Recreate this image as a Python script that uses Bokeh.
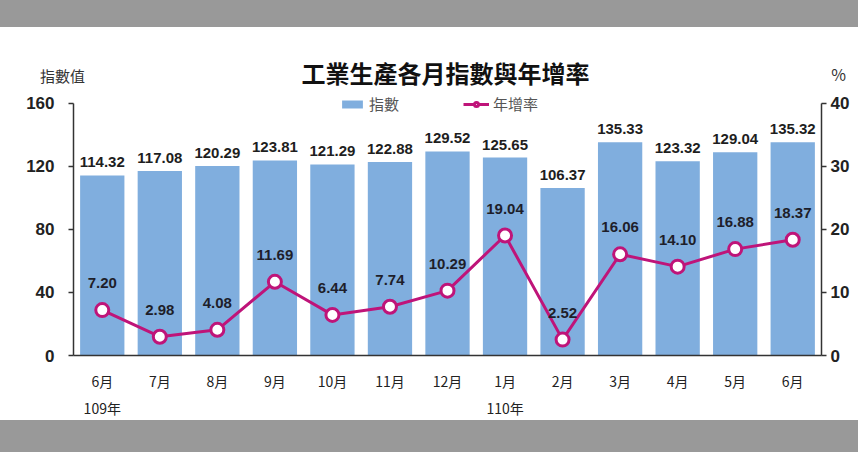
from bokeh.plotting import figure
from bokeh.models import (Range1d, LinearAxis, FixedTicker, ColumnDataSource,
                          Legend, LegendItem, Div)
from bokeh.layouts import column
from bokeh.core.properties import value
from bokeh.embed import file_html
from bokeh.resources import INLINE

# ---- data ----
months = ["6月", "7月", "8月", "9月", "10月", "11月", "12月",
          "1月", "2月", "3月", "4月", "5月", "6月"]
index_vals = [114.32, 117.08, 120.29, 123.81, 121.29, 122.88, 129.52,
              125.65, 106.37, 135.33, 123.32, 129.04, 135.32]
growth = [7.20, 2.98, 4.08, 11.69, 6.44, 7.74, 10.29,
          19.04, 2.52, 16.06, 14.10, 16.88, 18.37]
year_ticks = [0, 7]
year_names = ["109年", "110年"]
left_ticks = [0, 40, 80, 120, 160]
right_ticks = [0, 10, 20, 30, 40]
title_text = "工業生產各月指數與年增率"
left_unit = "指數值"
right_unit = "%"

BAR = "#80AEDE"
LINE = "#BF1479"
NUM_FONT = "'Liberation Sans Narrow', 'Liberation Sans', Arial, sans-serif"
CJK = "Noto Sans CJK TC"

# ---------------- header (title row) ----------------
hdr = figure(width=858, height=63, x_range=Range1d(0, 858),
             y_range=Range1d(90, 27), output_backend="svg",
             toolbar_location=None, min_border=0,
             min_border_left=0, min_border_right=0,
             min_border_top=0, min_border_bottom=0,
             x_axis_location=None, y_axis_location=None,
             outline_line_color=None, background_fill_color="white",
             border_fill_color="white")
hdr.frame_align = False
hdr.xgrid.grid_line_color = None
hdr.ygrid.grid_line_color = None
hdr_src = ColumnDataSource(dict(
    x=[445, 62, 838], y=[72, 75, 73],
    t=[title_text, left_unit, right_unit],
    size=["24px", "15px", "16px"],
    style=["bold", "normal", "normal"],
    color=["#111111", "#333333", "#333333"],
))
hdr.text(x="x", y="y", text="t", source=hdr_src, text_align="center",
         text_baseline="middle", text_font=value(CJK),
         text_font_size="size", text_font_style="style", text_color="color")

# ---------------- main chart ----------------
xs = list(range(len(months)))
src = ColumnDataSource(dict(
    x=xs, idx=index_vals, g=growth,
    idx_t=[f"{v:.2f}" for v in index_vals],
    g_t=[f"{v:.2f}" for v in growth],
))

frame_h = 267
px_per = 254 / 160.0
p = figure(width=858, height=330, x_range=Range1d(-0.5, 12.5),
           y_range=Range1d(0, frame_h / px_per), output_backend="svg",
           toolbar_location=None, min_border_left=73, min_border_right=37,
           min_border_top=0, min_border_bottom=63,
           outline_line_color=None, background_fill_color="white",
           border_fill_color="white")
p.frame_align = False
p.xgrid.grid_line_color = None
p.ygrid.grid_line_color = None
p.extra_y_ranges = {"pct": Range1d(0, frame_h / px_per / 4.0)}

# bars
bars = p.vbar(x="x", top="idx", width=0.77, source=src, fill_color=BAR,
              line_color=None)
p.text(x="x", y="idx", text="idx_t", source=src, text_align="center",
       text_baseline="middle", y_offset=-13, text_font=value(NUM_FONT),
       text_font_size="15px", text_font_style="bold", text_color="#1e1e1e")

# line
ln = p.line(x="x", y="g", source=src, y_range_name="pct", line_color=LINE,
            line_width=3)
dots = p.scatter(x="x", y="g", source=src, y_range_name="pct", size=13,
                 fill_color="white", line_color=LINE, line_width=3)
p.text(x="x", y="g", text="g_t", source=src, y_range_name="pct",
       text_align="center", text_baseline="middle", y_offset=-27,
       text_font=value(NUM_FONT), text_font_size="15px",
       text_font_style="bold", text_color="#1e1e2a")

# axes
ax_col = "#333333"
ya = p.yaxis[0]
ya.ticker = FixedTicker(ticks=left_ticks)
ya.bounds = (0, 160)
ya.axis_line_color = ax_col
ya.axis_line_width = 1.5
ya.major_tick_line_color = ax_col
ya.major_tick_line_width = 1.5
ya.major_tick_in = 0
ya.major_tick_out = 5
ya.minor_tick_line_color = None
ya.major_label_standoff = 14
ya.major_label_text_font = NUM_FONT
ya.major_label_text_font_size = "17px"
ya.major_label_text_font_style = "bold"
ya.major_label_text_color = "#222222"

ra = LinearAxis(y_range_name="pct", ticker=FixedTicker(ticks=right_ticks))
ra.bounds = (0, 40)
ra.axis_line_color = ax_col
ra.axis_line_width = 1.5
ra.major_tick_line_color = ax_col
ra.major_tick_line_width = 1.5
ra.major_tick_in = 0
ra.major_tick_out = 5
ra.minor_tick_line_color = None
ra.major_label_standoff = 4
ra.major_label_text_font = NUM_FONT
ra.major_label_text_font_size = "17px"
ra.major_label_text_font_style = "bold"
ra.major_label_text_color = "#222222"
p.add_layout(ra, "right")

xa = p.xaxis[0]
xa.ticker = FixedTicker(ticks=xs)
xa.major_label_overrides = {i: m for i, m in zip(xs, months)}
xa.axis_line_color = ax_col
xa.axis_line_width = 1.5
xa.major_tick_line_color = None
xa.minor_tick_line_color = None
xa.major_tick_out = 0
xa.major_tick_in = 0
xa.major_label_standoff = 15
xa.major_label_text_font = CJK
xa.major_label_text_font_size = "14px"
xa.major_label_text_color = "#222222"

xa2 = LinearAxis(ticker=FixedTicker(ticks=year_ticks))
xa2.major_label_overrides = {t: n for t, n in zip(year_ticks, year_names)}
xa2.axis_line_color = None
xa2.major_tick_line_color = None
xa2.minor_tick_line_color = None
xa2.major_tick_out = 0
xa2.major_tick_in = 0
xa2.major_label_standoff = 4
xa2.major_label_text_font = CJK
xa2.major_label_text_font_size = "14px"
xa2.major_label_text_color = "#222222"
p.add_layout(xa2, "below")

# legend
legend = Legend(items=[LegendItem(label="指數", renderers=[bars]),
                       LegendItem(label="年增率", renderers=[ln, dots])],
                location=(266, 241), orientation="horizontal",
                border_line_color=None, background_fill_alpha=0,
                padding=0, margin=0, spacing=64, label_standoff=4,
                glyph_width=26, glyph_height=10, label_height=16,
                label_text_font=CJK, label_text_font_size="15px",
                label_text_color="#555555")
p.add_layout(legend)

top_band = Div(width=858, height=27, margin=(0, 0, 0, 0),
               styles={"background-color": "#999999"})
bot_band = Div(width=858, height=32, margin=(0, 0, 0, 0),
               styles={"background-color": "#999999"})
layout = column(top_band, hdr, p, bot_band, spacing=0)

open("out.html", "w").write(file_html(layout, INLINE))
